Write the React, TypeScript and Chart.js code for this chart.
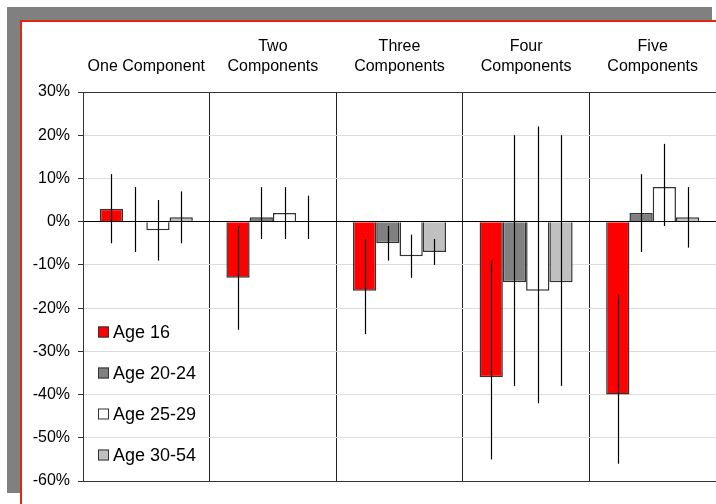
import React, { useEffect, useRef } from "react";
import { Chart, registerables } from "chart.js";

Chart.register(...registerables);

const categories: (string | string[])[] = [
  "One Component",
  ["Two", "Components"],
  ["Three", "Components"],
  ["Four", "Components"],
  ["Five", "Components"],
];

const seriesNames = ["Age 16", "Age 20-24", "Age 25-29", "Age 30-54"];
const seriesColors = ["#ff0000", "#808080", "#ffffff", "#c0c0c0"];

const age16 = [3, -13, -16, -36, -40];
const age2024 = [0, 1, -5, -14, 2];
const age2529 = [-2, 2, -8, -16, 8];
const age3054 = [1, 0, -7, -14, 1];

const age16Hi = [11, -1, -4, -9, -17];
const age16Lo = [-5, -25, -26, -55, -56];
const age2024Hi = [8, 8, -1, 20, 11];
const age2024Lo = [-7, -4, -9, -38, -7];
const age2529Hi = [5, 8, -3, 22, 18];
const age2529Lo = [-9, -4, -13, -42, -1];
const age3054Hi = [7, 6, -4, 20, 8];
const age3054Lo = [-5, -4, -10, -38, -6];

const yTicks = [-60, -50, -40, -30, -20, -10, 0, 10, 20, 30];

const FONT = "'Liberation Sans', Arial, sans-serif";

export default function App() {
  const ref = useRef<HTMLCanvasElement | null>(null);

  useEffect(() => {
    if (!ref.current) return;
    const values = [age16, age2024, age2529, age3054];
    const highs = [age16Hi, age2024Hi, age2529Hi, age3054Hi];
    const lows = [age16Lo, age2024Lo, age2529Lo, age3054Lo];

    const errorBars = {
      id: "errorBars",
      afterDatasetsDraw(chart: any) {
        const ctx = chart.ctx;
        const y = chart.scales.y;
        ctx.save();
        ctx.strokeStyle = "#000";
        ctx.lineWidth = 1.2;
        values.forEach((_, i) => {
          const meta = chart.getDatasetMeta(i);
          meta.data.forEach((el: any, j: number) => {
            const x = Math.round(el.x) + 0.5;
            ctx.beginPath();
            ctx.moveTo(x, y.getPixelForValue(highs[i][j]));
            ctx.lineTo(x, y.getPixelForValue(lows[i][j]));
            ctx.stroke();
          });
        });
        ctx.restore();
      },
    };

    const innerLegend = {
      id: "innerLegend",
      afterDraw(chart: any) {
        const ctx = chart.ctx;
        const a = chart.chartArea;
        ctx.save();
        ctx.font = `18px ${FONT}`;
        ctx.textBaseline = "middle";
        ctx.textAlign = "left";
        seriesNames.forEach((name, i) => {
          const cy = a.top + 240 + i * 41;
          const bx = a.left + 15;
          ctx.fillStyle = seriesColors[i];
          ctx.fillRect(bx, cy - 5.5, 11, 11);
          ctx.strokeStyle = "#333";
          ctx.lineWidth = 1;
          ctx.strokeRect(bx + 0.5, cy - 5, 10, 10);
          ctx.fillStyle = "#000";
          ctx.fillText(name, bx + 15, cy + 1);
        });
        ctx.restore();
      },
    };

    const chart = new Chart(ref.current, {
      type: "bar",
      data: {
        labels: categories as any,
        datasets: values.map((v, i) => ({
          label: seriesNames[i],
          data: v,
          backgroundColor: seriesColors[i],
          borderColor: "#333",
          borderWidth: 1.5,
          categoryPercentage: 0.735,
          barPercentage: 1,
        })),
      },
      options: {
        responsive: false,
        animation: false,
        devicePixelRatio: 1,
        layout: { padding: { left: 0, right: 0, top: 0, bottom: 23 } },
        plugins: {
          legend: { display: false },
          tooltip: { enabled: false },
        },
        scales: {
          x: {
            type: "category",
            position: "top",
            offset: true,
            grid: {
              offset: true,
              color: "#222",
              lineWidth: 1,
              drawTicks: false,
            },
            border: { display: true, color: "#333" },
            ticks: {
              color: "#000",
              font: { family: FONT, size: 16, lineHeight: 1.25 },
              padding: 15,
              maxRotation: 0,
              autoSkip: false,
            },
            afterFit: (s: any) => {
              s.height = 92;
            },
          },
          y: {
            min: -60,
            max: 30,
            afterBuildTicks: (s: any) => {
              s.ticks = yTicks.map((v) => ({ value: v }));
            },
            ticks: {
              color: "#000",
              font: { family: FONT, size: 16 },
              padding: 8,
              callback: (v: any) => v + "%",
            },
            grid: {
              color: (c: any) => {
                const v = c.tick ? c.tick.value : null;
                if (v === 0) return "#000";
                if (v === -60 || v === 30) return "#333";
                return "#dcdcdc";
              },
              tickColor: "#333",
              tickLength: 5,
            },
            border: { display: true, color: "#333" },
            afterFit: (s: any) => {
              s.width = 83;
            },
          },
        },
      },
      plugins: [errorBars, innerLegend],
    });
    return () => chart.destroy();
  }, []);

  return (
    <div
      style={{
        position: "fixed",
        left: 0,
        top: 0,
        width: 716,
        height: 504,
        overflow: "hidden",
        background: "#fff",
      }}
    >
      <div
        style={{
          position: "absolute",
          left: 7,
          top: 7,
          width: 705,
          height: 486,
          background: "#808080",
        }}
      />
      <div
        style={{
          position: "absolute",
          left: 20,
          top: 20,
          width: 720,
          height: 500,
          background: "#fff",
          border: "2px solid #e0280c",
          boxSizing: "border-box",
        }}
      />
      <canvas
        ref={ref}
        width={716}
        height={504}
        style={{ position: "absolute", left: 0, top: 0, width: 716, height: 504 }}
      />
    </div>
  );
}
